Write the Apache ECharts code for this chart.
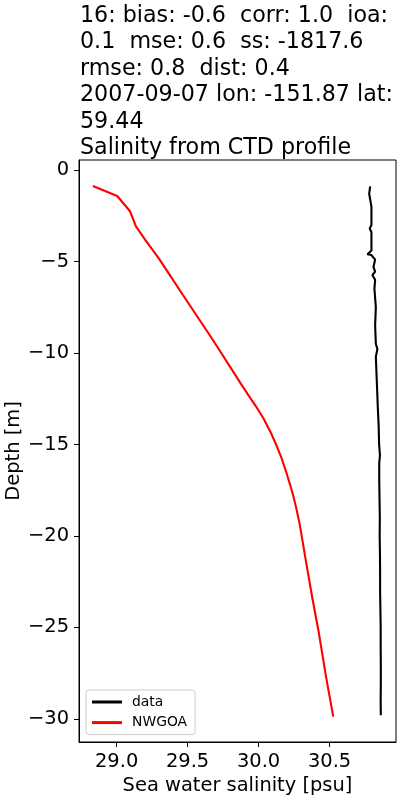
<!DOCTYPE html>
<html>
<head>
<meta charset="utf-8">
<script src="https://cdn.jsdelivr.net/npm/echarts@6/dist/echarts.min.js"></script>
<style>
html,body{margin:0;padding:0;background:#fff;}
#chart{width:400px;height:800px;}
</style>
</head>
<body>
<div id="chart"></div>
<script>
var titleLines = [
  "16: bias: -0.6  corr: 1.0  ioa:",
  "0.1  mse: 0.6  ss: -1817.6",
  "rmse: 0.8  dist: 0.4",
  "2007-09-07 lon: -151.87 lat:",
  "59.44",
  "Salinity from CTD profile"
];
var seriesNames = ["data", "NWGOA"];

// CTD observations
var dataDepth = [-0.9, -1.3, -2.0, -3.0, -3.2, -3.4, -4.4, -4.6, -4.65, -4.9, -5.3, -5.55, -5.75, -6.0, -6.5, -7.5, -8.5, -9.5, -9.8, -10.2, -11.0, -12.0, -13.0, -14.0, -15.0, -15.6, -16.0, -17.0, -18.0, -19.0, -20.0, -21.0, -22.0, -23.0, -24.0, -25.0, -26.0, -27.0, -28.0, -29.0, -29.8];
var dataSal = [30.786, 30.779, 30.795, 30.795, 30.783, 30.795, 30.795, 30.767, 30.795, 30.821, 30.809, 30.821, 30.802, 30.821, 30.816, 30.826, 30.821, 30.826, 30.837, 30.826, 30.830, 30.835, 30.840, 30.846, 30.849, 30.855, 30.850, 30.850, 30.852, 30.854, 30.853, 30.855, 30.856, 30.856, 30.858, 30.860, 30.860, 30.861, 30.861, 30.860, 30.861];

// NWGOA model
var modelDepth = [-0.87, -1.42, -2.24, -3.10, -3.83, -4.83, -5.65, -6.83, -9.02, -10.00, -11.02, -11.70, -12.30, -12.90, -13.57, -14.30, -15.03, -15.75, -16.49, -17.20, -17.76, -18.50, -19.30, -20.20, -21.13, -23.32, -25.32, -27.69, -29.87];
var modelSal = [28.833, 29.004, 29.093, 29.137, 29.203, 29.297, 29.367, 29.467, 29.655, 29.737, 29.821, 29.877, 29.928, 29.980, 30.034, 30.083, 30.125, 30.162, 30.194, 30.222, 30.243, 30.266, 30.288, 30.308, 30.328, 30.377, 30.425, 30.475, 30.526];

var xTicks = [29.0, 29.5, 30.0, 30.5];
var yTicks = [-30, -25, -20, -15, -10, -5, 0];

function pairs(xs, ys) { return xs.map(function (v, i) { return [v, ys[i]]; }); }
var FONT = "DejaVu Sans";

var chart = echarts.init(document.getElementById('chart'), null, {renderer: 'canvas'});
chart.setOption({
  animation: false,
  backgroundColor: '#ffffff',
  title: {
    text: titleLines.join('\n'),
    left: 80, top: 3, padding: 0,
    textStyle: {fontFamily: FONT, fontSize: 22.2, fontWeight: 'normal', color: '#000', lineHeight: 26.4}
  },
  grid: {left: 79, right: 4, top: 160, bottom: 58, outerBoundsMode: 'none', containLabel: false,
    show: true, borderColor: '#000', borderWidth: 1, backgroundColor: 'transparent'},
  legend: {
    left: 86, top: 690, orient: 'vertical',
    data: seriesNames,
    icon: 'rect', itemWidth: 30, itemHeight: 3, itemGap: 4.6,
    padding: [4, 8, 4, 6],
    borderColor: '#cccccc', borderWidth: 1, borderRadius: 3,
    backgroundColor: 'rgba(255,255,255,0.8)',
    textStyle: {fontFamily: FONT, fontSize: 13.9, color: '#000', lineHeight: 16, padding: [0, 0, 0, 5]}
  },
  xAxis: {
    type: 'value', min: 28.735, max: 30.968,
    name: 'Sea water salinity [psu]', nameLocation: 'middle', nameGap: 34,
    nameTextStyle: {fontFamily: FONT, fontSize: 19.44, color: '#000'},
    axisLine: {show: true, onZero: false, lineStyle: {color: '#000', width: 1}},
    axisTick: {show: true, length: 5, lineStyle: {color: '#000'}, customValues: xTicks},
    axisLabel: {fontFamily: FONT, fontSize: 19.44, color: '#000', margin: 10, customValues: xTicks,
      formatter: function (v) { return v.toFixed(1); }},
    splitLine: {show: false}
  },
  yAxis: {
    type: 'value', min: -31.26, max: 0.546,
    name: 'Depth [m]', nameLocation: 'middle', nameGap: 56, nameRotate: 90, nameMoveOverlap: false,
    nameTextStyle: {fontFamily: FONT, fontSize: 19.44, color: '#000'},
    axisLine: {show: true, onZero: false, lineStyle: {color: '#000', width: 1}},
    axisTick: {show: true, length: 5, lineStyle: {color: '#000'}, customValues: yTicks},
    axisLabel: {fontFamily: FONT, fontSize: 19.44, color: '#000', margin: 10, customValues: yTicks,
      formatter: function (v) { return String(v).replace('-', '\u2212'); }},
    splitLine: {show: false}
  },
  series: [
    {name: seriesNames[0], type: 'line', data: pairs(dataSal, dataDepth), showSymbol: false, symbol: 'none',
      lineStyle: {color: '#000000', width: 2.1}, itemStyle: {color: '#000000'}, z: 3},
    {name: seriesNames[1], type: 'line', data: pairs(modelSal, modelDepth), showSymbol: false, symbol: 'none',
      lineStyle: {color: '#ff0000', width: 2.1}, itemStyle: {color: '#ff0000'}, z: 2}
  ]
});
</script>
</body>
</html>
